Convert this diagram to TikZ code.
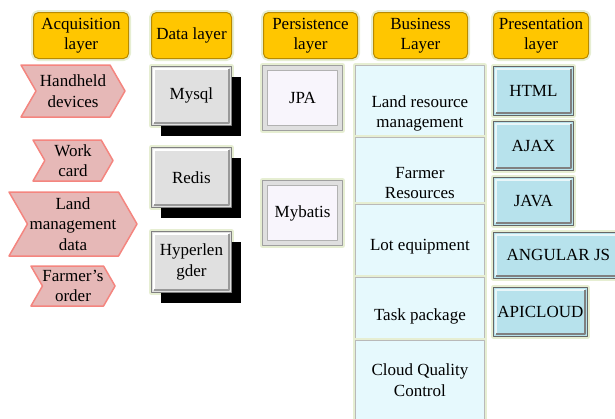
\documentclass[tikz,border=0pt]{standalone}
\usepackage{fontspec}
\setmainfont{Liberation Serif}
\usetikzlibrary{shapes.symbols,shadows}
\definecolor{gold}{HTML}{FFC600}
\definecolor{goldedge}{HTML}{B88A00}
\definecolor{glowgreen}{HTML}{E6EED2}
\definecolor{pinkfill}{HTML}{E6B8B7}
\definecolor{pinkedge}{HTML}{F4857F}
\definecolor{storegray}{HTML}{E0E0E0}
\definecolor{ormfill}{HTML}{F8F5FC}
\definecolor{bizfill}{HTML}{E6F9FD}
\definecolor{viewfill}{HTML}{B7E2EC}

\begin{document}
\begin{tikzpicture}[x=1pt,y=-1pt,line join=round,
    font=\fontsize{17}{20.5}\selectfont,
    glow/.style={preaction={draw=glowgreen,line width=5pt}},
    bevel/.style 2 args={path picture={
        \draw[#1,line width=1.3pt] ([shift={(2.5pt,2.5pt)}]path picture bounding box.south west) |- ([shift={(-2.5pt,-2.5pt)}]path picture bounding box.north east);
        \draw[#2,line width=1.3pt] ([shift={(2.5pt,2.5pt)}]path picture bounding box.south west) -| ([shift={(-2.5pt,-2.5pt)}]path picture bounding box.north east);}},
    panel/.style={path picture={
        \filldraw[fill=ormfill,draw=gray!60,line width=0.8pt] ([shift={(5pt,5pt)}]path picture bounding box.south west) rectangle ([shift={(-5pt,-5pt)}]path picture bounding box.north east);}},
    box/.style={anchor=north west,align=center,inner sep=0pt},
    layerhead/.style={box,glow,draw=goldedge,fill=gold,line width=1pt,rounded corners=5pt,minimum height=46pt},
    source/.style={signal,signal from=west,signal to=east,signal pointer angle=120,
        fill=pinkfill,draw=pinkedge,line width=1.5pt,align=center,inner sep=0pt},
    store/.style={box,glow,fill=storegray,draw=gray,line width=0.8pt,minimum width=80pt,
        drop shadow={fill=black,opacity=1,shadow xshift=10pt,shadow yshift=-11pt},
        bevel={white}{gray!80}},
    orm/.style={box,glow,fill=gray!25,draw=gray!75,line width=1pt,minimum width=80pt,
        minimum height=65pt,panel},
    biz/.style={box,glow,fill=bizfill,draw=gray!55,line width=0.8pt,minimum width=129pt},
    view/.style={box,glow,fill=viewfill,draw=gray!80!black,line width=0.8pt,
        minimum width=80pt,bevel={white!70!viewfill}{gray}}]
    \useasboundingbox (0,0) rectangle (615,418);
    \clip (0,0) rectangle (615,418);

    % layer headings
    \node[layerhead,minimum width=95pt] (hAcq) at (33,12) {Acquisition\\layer};
    \node[layerhead,minimum width=80pt] (hData) at (151,12) {Data layer};
    \node[layerhead,minimum width=94pt] (hPers) at (263,12) {Persistence\\layer};
    \node[layerhead,minimum width=94pt] (hBus) at (373,12) {Business\\Layer};
    \node[layerhead,minimum width=95pt] (hPres) at (493,12) {Presentation\\layer};

    % acquisition
    \node[source,minimum width=104pt,minimum height=52pt] (handheld) at (73,91) {Handheld\\devices};
    \node[source,minimum width=80pt,minimum height=41pt] (workcard) at (73,160.5) {Work\\card};
    \node[source,minimum width=128pt,minimum height=64pt] (landdata) at (73,224) {Land\\management\\data};
    \node[source,minimum width=80pt,minimum height=40pt] (order) at (73,286) {Farmer's\\order};

    % data layer
    \node[store,minimum height=59pt] (mysql) at (151,66) {Mysql};
    \node[store,minimum height=60pt] (redis) at (151,147) {Redis};
    \node[store,minimum height=61pt] (ledger) at (151,231) {Hyperlen\\gder};

    % persistence
    \node[orm] (jpa) at (262,65) {JPA};
    \node[orm] (mybatis) at (262,180) {Mybatis};

    % business (empty first line pushes the text down)
    \node[biz,minimum height=72pt] (bLand) at (355,65) {\\[15pt]Land resource\\management};
    \node[biz,minimum height=67pt] (bFarm) at (355,137) {\\[15pt]Farmer\\Resources};
    \node[biz,minimum height=73pt] (bLot) at (355,204) {\\[1.5pt]Lot equipment};
    \node[biz,minimum height=63pt] (bTask) at (355,277) {\\[5.5pt]Task package};
    \node[biz,minimum height=80pt] (bCloud) at (355,340) {Cloud Quality\\Control};

    % presentation
    \node[view,minimum height=49pt] (html) at (493,66) {HTML};
    \node[view,minimum height=49pt] (ajax) at (493,121) {AJAX};
    \node[view,minimum height=48pt] (java) at (493,177) {JAVA};
    \node[view,minimum width=130pt,minimum height=46pt] (angular) at (493,232) {ANGULAR JS};
    \node[view,minimum width=94pt,minimum height=49pt] (apicloud) at (493,287) {APICLOUD};
\end{tikzpicture}
\end{document}
